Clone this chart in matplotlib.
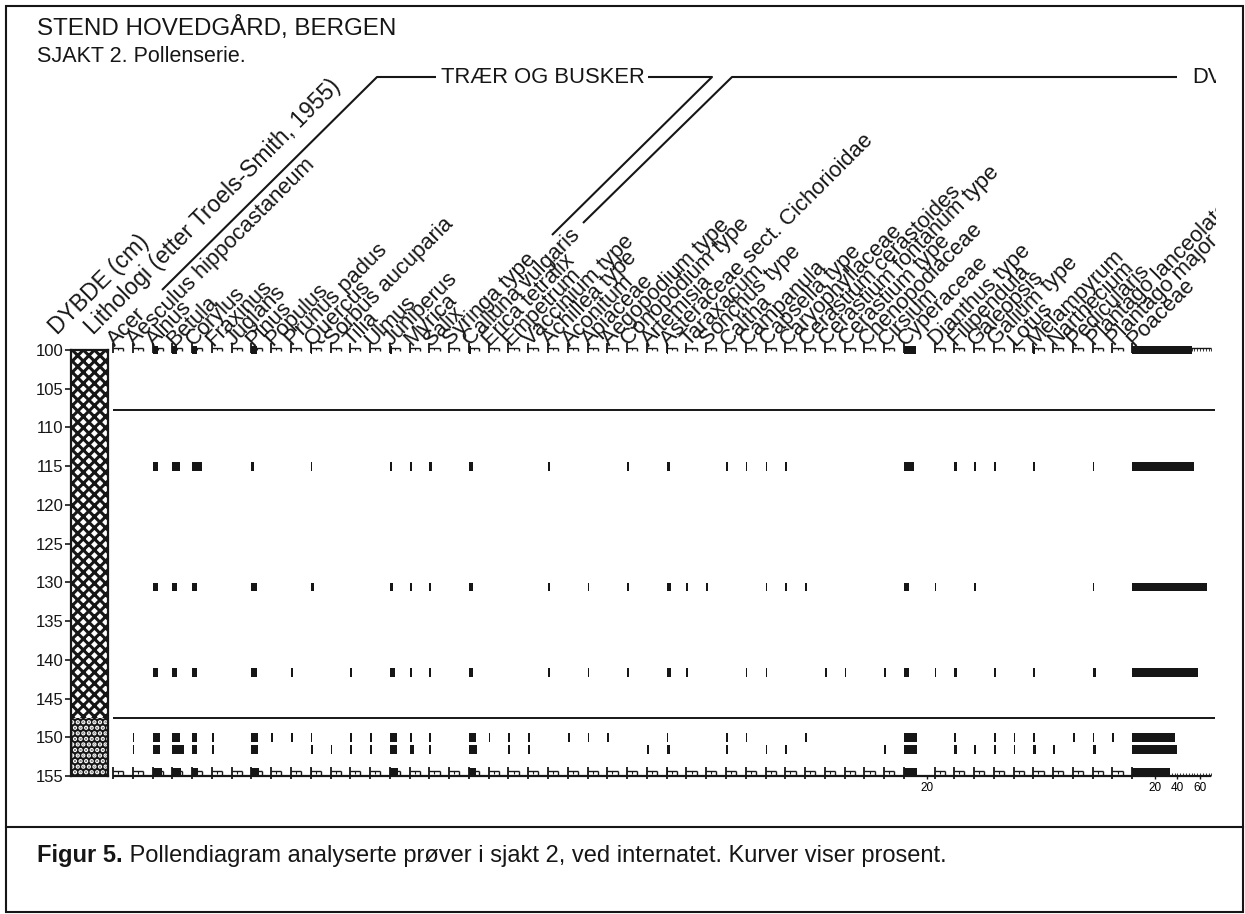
import numpy as np
import matplotlib
matplotlib.use("Agg")
import matplotlib.pyplot as plt
from matplotlib.patches import Rectangle
from matplotlib.transforms import Bbox, TransformedBbox

plt.rcParams['font.family'] = ['Liberation Sans', 'DejaVu Sans']
plt.rcParams['hatch.linewidth'] = 2.2

# ---------------- data ----------------
taxa = ["Acer", "Aesculus hippocastaneum", "Alnus", "Betula", "Corylus",
        "Fraxinus", "Juglans", "Pinus", "Populus", "Prunus padus",
        "Quercus", "Sorbus aucuparia", "Tilia", "Ulmus", "Juniperus",
        "Myrica", "Salix", "Syringa type", "Calluna vulgaris", "Erica tetralix",
        "Empetrum", "Vaccinium type", "Achillea type", "Aconitum", "Apiaceae",
        "Aegopodium type", "Conopodium type", "Artemisia",
        "Asteraceae sect. Cichorioidae", "Taraxacum",
        "Sonchus type", "Caltha", "Campanula", "Capsella type", "Caryophyllaceae",
        "Cerastium cerastoides", "Cerastium fontanum type", "Cerastium type",
        "Chenopodiaceae", "Cirsium",
        "Cyperaceae", "Dianthus type", "Filipendula", "Galeopsis", "Galium type",
        "Lotus", "Melampyrum", "Narthecium", "Pedicularis", "Plantago lanceolata",
        "Plantago major", "Poaceae"]

sample_depths = [100.0, 115.0, 130.6, 141.6, 150.0, 151.6, 154.5]

# percent values, one list per sample (same order as taxa)
pct_100 = [0, 0, 4.5, 4.5, 4.5, 0, 0, 5, 0, 0,
           1, 0, 0, 0, 1.5, 0, 0, 0, 1.5, 0,
           0, 0, 0, 0, 0, 0, 0, 0, 1.5, 0,
           0, 0, 0, 0, 0, 0, 0, 0, 0, 0,
           10.5, 0, 0, 0, 0, 0, 1.5, 0, 0, 0, 0, 53]
pct_115 = [0, 0, 4.5, 7, 9, 0, 0, 2.5, 0, 0,
           1.5, 0, 0, 0, 1.5, 2.5, 2, 0, 3.5, 0,
           0, 0, 1.5, 0, 0, 0, 1.5, 0, 2.5, 0,
           0, 1.5, 1.5, 1.5, 1.5, 0, 0, 0, 0, 0,
           8.5, 0, 2.5, 1.5, 1.5, 0, 1.5, 0, 0, 1.5, 0, 55]
pct_131 = [0, 0, 4.5, 4.5, 4.5, 0, 0, 4.5, 0, 0,
           2.5, 0, 0, 0, 2.5, 2.5, 1.5, 0, 3.5, 0,
           0, 0, 1.5, 0, 1.5, 0, 1.5, 0, 3.5, 1.5,
           1.5, 0, 0, 1.5, 1.5, 1.5, 0, 0, 0, 0,
           4.5, 1.5, 0, 1.5, 0, 0, 0, 0, 0, 1.5, 0, 66]
pct_142 = [0, 0, 4.5, 4.5, 4.5, 0, 0, 4.5, 0, 1.5,
           0, 0, 1.5, 0, 4.5, 2.5, 1.5, 0, 3.5, 0,
           0, 0, 1.5, 0, 1.5, 0, 1.5, 0, 3.5, 1.5,
           0, 0, 1.5, 1.5, 0, 0, 1.5, 1.5, 0, 1.5,
           4.5, 1.5, 2.5, 0, 1.5, 0, 1.5, 0, 0, 3, 0, 58]
pct_150 = [0, 1.5, 7, 7, 4, 1.5, 0, 5.5, 1.5, 1.5,
           1.5, 0, 1.5, 1.5, 6, 2, 1.5, 0, 6, 1.5,
           1.5, 1.5, 0, 1.5, 1.5, 1.5, 0, 0, 1.5, 0,
           0, 1.5, 1.5, 0, 0, 1.5, 0, 0, 0, 0,
           11.5, 0, 1.5, 0, 1.5, 1.5, 1.5, 0, 1.5, 1.5, 1.5, 38]
pct_152 = [0, 1.5, 7, 10, 4.5, 1.5, 0, 5.5, 0, 0,
           2, 1.5, 1.5, 1.5, 6, 3.5, 1.5, 0, 7, 0,
           1.5, 1.5, 0, 0, 0, 0, 0, 1.5, 2.5, 0,
           0, 1.5, 0, 1.5, 1.5, 0, 0, 0, 0, 1.5,
           11.5, 0, 2.5, 1.5, 1.5, 1.5, 2.5, 1.5, 0, 2.5, 0, 40]
pct_155 = [0, 0, 8, 8, 5, 0, 0, 7, 0, 0,
           1, 0, 0, 0, 7, 0, 0, 0, 6, 0,
           0, 0, 0, 0, 0, 0, 0, 0, 1, 0,
           0, 0, 0, 0, 0, 0, 0, 0, 0, 0,
           11.5, 0, 0, 0, 0, 0, 0, 0, 0, 0, 0, 33]
samples = [pct_100, pct_115, pct_131, pct_142, pct_150, pct_152, pct_155]

depth_ticks = list(range(100, 156, 5))
zone_lines = [107.7, 147.5]
lith_bounds = [100.0, 147.5, 155.0]      # crosshatch above, dotted below
cyp_scale = [20]
poa_scale = [20, 40, 60]

# ---------------- layout ----------------
W, H = 1245, 914
fig = plt.figure(figsize=(W / 100, H / 100), dpi=100)
fig.patch.set_facecolor("white")

def fx(px):
    return px / W

def fy(py):
    return 1 - py / H

PX = 1.13                      # pixels per percent unit
col_w = np.full(len(taxa), 17.5)
col_w[taxa.index("Cyperaceae")] = 27
col_w[-1] = 70
offsets = np.concatenate([[0], np.cumsum(col_w)[:-1]])

X0 = 113
AX_L, AX_R = 108, 1216
Y_TOP, Y_BOT = 350, 776
INK = "#161616"

clip_bb = TransformedBbox(Bbox.from_extents(0, 0, fx(1216), 1), fig.transFigure)

# overlay in pixel coordinates
ov = fig.add_axes([0, 0, 1, 1])
ov.set_xlim(0, W)
ov.set_ylim(H, 0)
ov.axis("off")
ov.patch.set_alpha(0)

# pollen axes
ax = fig.add_axes([fx(AX_L), fy(Y_BOT), (AX_R - AX_L) / W, (Y_BOT - Y_TOP) / H])
ax.set_xlim((AX_L - X0) / PX, (AX_R - X0) / PX)
ax.set_ylim(155, 100)
ax.axis("off")
ax.patch.set_alpha(0)
x_end = (1215 - X0) / PX

# bars
for d, vals in zip(sample_depths, samples):
    vals = np.asarray(vals, float)
    m = vals > 0
    ax.barh(np.full(m.sum(), d), vals[m], left=offsets[m], height=1.15,
            color=INK, lw=0, clip_on=False, zorder=3)

# per-column small axis glyphs (top and bottom)
reg = np.arange(len(taxa) - 1)
o = offsets[reg]
kw = dict(color=INK, clip_on=False, zorder=4)
ax.vlines(o, 99.1, 100.45, lw=1.3, **kw)
ax.hlines(np.full(len(o), 99.75), o, o + 9, lw=1.0, **kw)
ax.vlines(o + 9, 99.75, 100.15, lw=1.0, **kw)
ax.vlines(o + 4.5, 99.75, 100.05, lw=0.8, **kw)
ax.vlines(o, 153.9, 155.35, lw=1.3, **kw)
ax.hlines(np.full(len(o), 154.35), o, o + 9, lw=1.0, **kw)
ax.vlines(o + 9, 154.35, 155, lw=1.0, **kw)
ax.vlines(o + 4.5, 154.35, 154.8, lw=0.8, **kw)
# Poaceae scale lines
po = offsets[-1]
ax.vlines([po], 99.1, 100.45, lw=1.3, **kw)
ax.hlines([99.75], po, po + 70, lw=1.0, **kw)
ax.vlines(po + np.arange(2.5, 70.1, 2.5), 99.75, 100.1, lw=0.6, **kw)
ax.vlines(po + np.arange(2.5, 70.1, 2.5), 154.6, 155, lw=0.6, **kw)
ax.vlines(po + np.array(poa_scale), 155, 155.45, lw=1.0, **kw)
ci = taxa.index("Cyperaceae")
ax.vlines(offsets[ci] + np.array(cyp_scale), 155, 155.45, lw=1.0, **kw)
ax.vlines([po], 153.9, 155.35, lw=1.3, **kw)
# baseline
ax.hlines([155], 0, po + 70, lw=1.6, **kw)

for v in cyp_scale:
    ax.text(offsets[ci] + v, 156.5, str(v), ha="center", va="center", fontsize=8.5)
for v in poa_scale:
    ax.text(po + v, 156.5, str(v), ha="center", va="center", fontsize=8.5)

# zone lines
ax.hlines(zone_lines, 0, x_end, lw=1.4, color=INK, clip_on=False)

# taxon labels
for name, off in zip(taxa, offsets):
    t = ax.text(off + 1.5, 99.6, name, rotation=45, rotation_mode="anchor",
                ha="left", va="baseline", fontsize=15.8, color=INK, clip_on=True)
    t.set_clip_path(None)
    t.set_clip_box(clip_bb)

# lithology column
lx = fig.add_axes([fx(71), fy(Y_BOT), 37 / W, (Y_BOT - Y_TOP) / H])
lx.set_xlim(0, 1)
lx.set_ylim(155, 100)
lx.add_patch(Rectangle((0, lith_bounds[0]), 1, lith_bounds[1] - lith_bounds[0],
                       facecolor="white", edgecolor=INK, hatch="xxx", lw=0))
lx.add_patch(Rectangle((0, lith_bounds[1]), 1, lith_bounds[2] - lith_bounds[1],
                       facecolor=INK, edgecolor="white", hatch="...", lw=0))
for s in lx.spines.values():
    s.set_linewidth(1.6)
    s.set_color(INK)
lx.set_xticks([])
lx.set_yticks(depth_ticks)
lx.tick_params(axis="y", direction="out", length=4, width=1.2, labelsize=12,
               pad=1.5, colors=INK)

# ---------------- texts & decorations (pixel overlay) ----------------
ov.text(37, 35, "STEND HOVEDGÅRD, BERGEN", fontsize=17.4, color=INK, va="baseline")
ov.text(37, 62, "SJAKT 2. Pollenserie.", fontsize=15.5, color=INK, va="baseline")

ov.text(57, 335, "DYBDE (cm)", rotation=45, rotation_mode="anchor", ha="left",
        va="baseline", fontsize=16.5, color=INK)
ov.text(93, 335, "Lithologi (etter Troels-Smith, 1955)", rotation=45,
        rotation_mode="anchor", ha="left", va="baseline", fontsize=16.5, color=INK)

lkw = dict(color=INK, lw=1.5, solid_capstyle="butt")
ov.plot([162, 377, 436], [290, 77, 77], **lkw)
ov.plot([648, 712, 552], [77, 77, 235], **lkw)
ov.plot([583, 732, 1177], [223, 77, 77], **lkw)
ov.text(441, 83, "TRÆR OG BUSKER", fontsize=15.8, color=INK, va="baseline")
t = ov.text(1192, 83, "DV", fontsize=15.8, color=INK, va="baseline", clip_on=True)
t.set_clip_path(None)
t.set_clip_box(clip_bb)

# frame and caption
ov.add_patch(Rectangle((6, 6), 1237, 906, fill=False, lw=1.5, edgecolor=INK))
ov.plot([6, 1243], [827, 827], color=INK, lw=1.5)
tb = ov.text(37, 862, "Figur 5.", fontsize=17, fontweight="bold", color=INK,
             va="baseline")
ov.annotate(" Pollendiagram analyserte prøver i sjakt 2, ved internatet. Kurver viser prosent.",
            xy=(1, 0), xycoords=tb, ha="left", va="bottom", fontsize=17, color=INK)

fig.savefig("out.png", dpi=100, facecolor="white")
